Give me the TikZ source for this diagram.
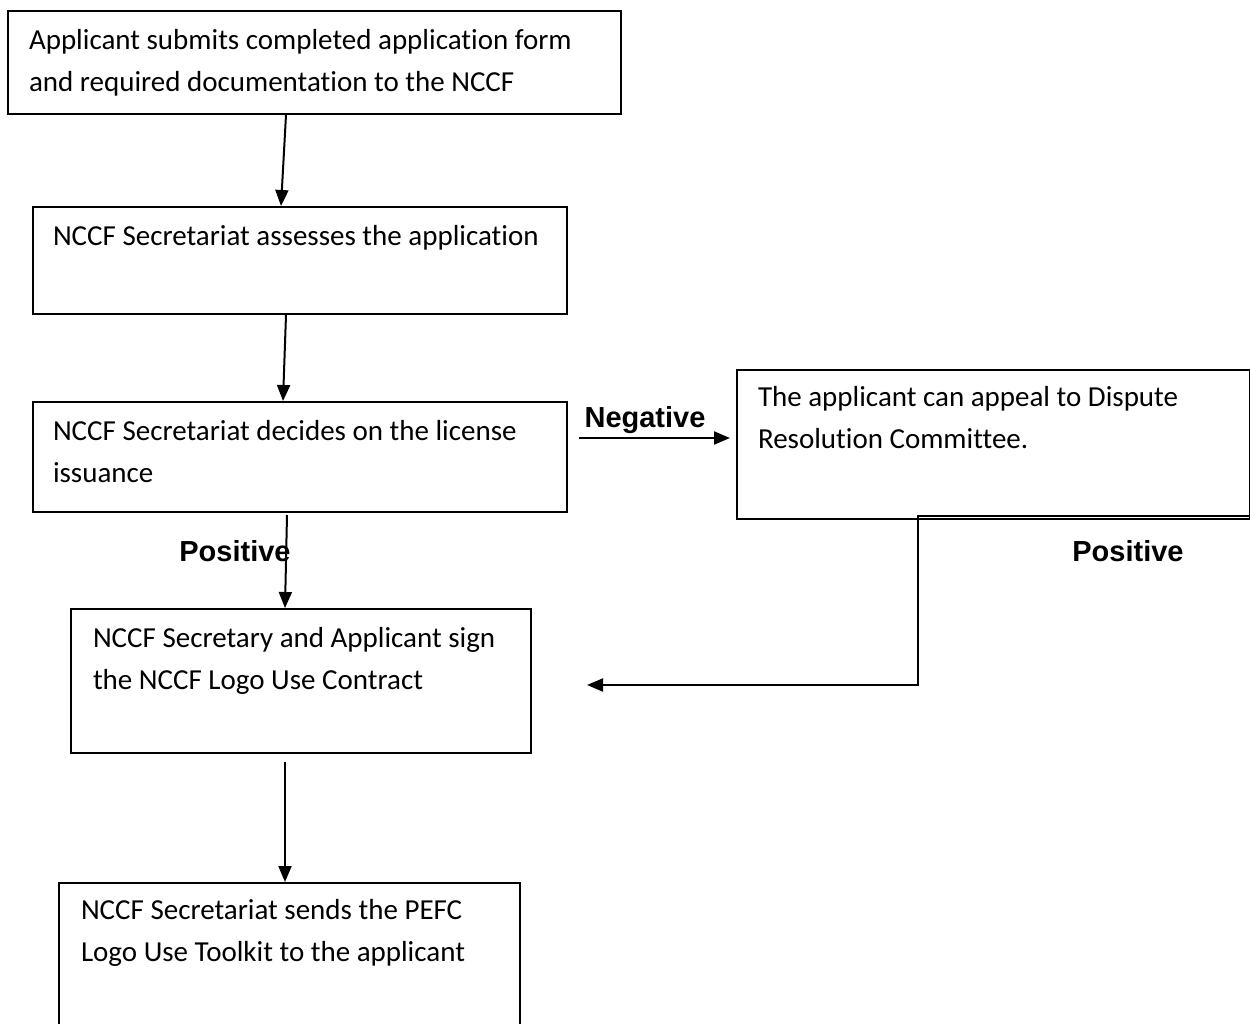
\documentclass[tikz,border=0pt]{standalone}
\usepackage{fontspec}
\setmainfont{Carlito}[Ligatures={NoCommon}]
\newfontfamily\arialfont{Liberation Sans}
\usetikzlibrary{arrows.meta,calc}
\newcommand\bxt[5]{\parbox[c][#2pt][t]{#1pt}{\leftskip=#3pt\relax\rightskip=0pt plus 1fil\relax\fontsize{29pt}{42.5pt}\selectfont\vspace*{#4pt}\noindent #5}}
\tikzset{
  box/.style={draw, line width=2pt, inner sep=0pt, anchor=north west},
  arr/.style={line width=2pt, -{Triangle[length=16pt,width=13pt]}},
  lbl/.style={font=\arialfont\bfseries\fontsize{29pt}{32pt}\selectfont, inner sep=0pt}
}
\begin{document}
\begin{tikzpicture}[x=1pt,y=-1pt]
\useasboundingbox (0,0) rectangle (1250,1024);
\clip (0,0) rectangle (1250,1024);
\node[box] (b1) at (7,10) {\bxt{613}{103}{21}{18}{Applicant submits completed application form\\and required documentation to the NCCF}};
\node[box] (b2) at (32,206) {\bxt{534}{107}{20}{18}{NCCF Secretariat assesses the application}};
\node[box] (b3) at (32,401) {\bxt{534}{110}{20}{18}{NCCF Secretariat decides on the license\\issuance}};
\node[box] (b4) at (736,369) {\bxt{513}{149}{21}{16}{The applicant can appeal to Dispute\\Resolution Committee.}};
\node[box] (b5) at (70,608) {\bxt{460}{144}{22}{18}{NCCF Secretary and Applicant sign\\the NCCF Logo Use Contract}};
\node[box] (b6) at (58,882) {\bxt{461}{150}{22}{16}{NCCF Secretariat sends the PEFC\\Logo Use Toolkit to the applicant}};
% vertical arrows
\draw[arr] ([xshift=279pt]b1.south west) -- ([xshift=249pt]b2.north west);
\draw[arr] ([xshift=254pt]b2.south west) -- ([xshift=251pt]b3.north west);
\draw[arr] ([shift={(255pt,-2pt)}]b3.south west) -- ([xshift=215pt]b5.north west);
\draw[arr] ([shift={(215pt,-8pt)}]b5.south west) -- ([xshift=227pt]b6.north west);
% negative
\coordinate (n1) at ([shift={(11pt,19pt)}]b3.east);
\coordinate (n2) at ([xshift=-6pt]b4.west |- n1);
\draw[arr] (n1) -- (n2);
\node[lbl] (neg) at (645,420) {Negative};
% return from dispute
\coordinate (r0) at ([yshift=4pt]b4.south east);
\coordinate (r1) at ([shift={(-333pt,4pt)}]b4.south east);
\coordinate (r2) at ([shift={(55pt,-77pt)}]b5.north east);
\draw[arr] (r0) -- (r1) |- (r2);
\node[lbl] (pos1) at (235,551) {Positive};
\node[lbl] (pos2) at (1128,551) {Positive};
\end{tikzpicture}
\end{document}
